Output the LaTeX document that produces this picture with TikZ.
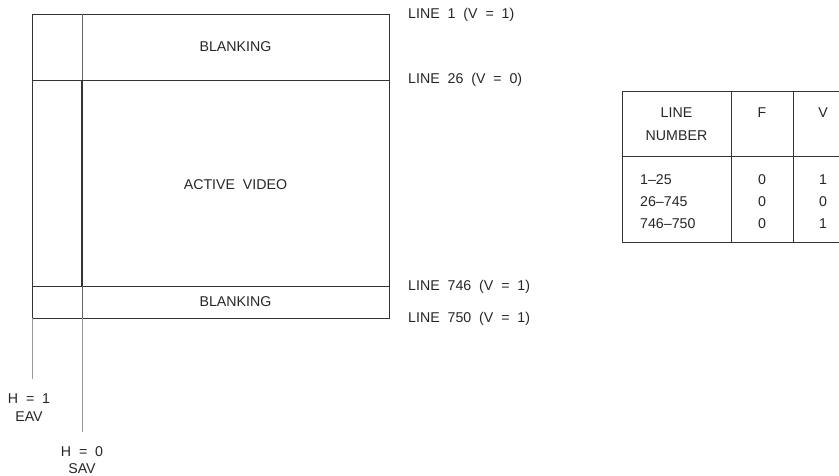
\documentclass[tikz,border=0pt]{standalone}
\usepackage{fontspec}
\setmainfont{Liberation Sans}
\begin{document}
\begin{tikzpicture}[x=1pt,y=-1pt,
  lbl/.style={inner sep=0pt,font=\fontsize{14.2}{17}\selectfont,text=black!85},
  llbl/.style={lbl,anchor=west},
  frame/.style={draw=black!80,line width=0.9pt},
  guide/.style={draw=black!40,line width=0.8pt}]
\useasboundingbox (0,0) rectangle (839,476);
% main frame
\coordinate (tl) at (32,14);
\coordinate (br) at (389,318);
\draw[frame] (tl) rectangle (br);
\coordinate (l26) at (32,80);
\coordinate (r26) at (389,80);
\coordinate (l746) at (32,286);
\coordinate (r746) at (389,286);
\draw[frame] (l26) -- (r26);
\draw[frame] (l746) -- (r746);
\coordinate (sTop) at (82,14);
\coordinate (sA) at (82,80);
\coordinate (sB) at (82,286);
\coordinate (sBot) at (82,318);
\coordinate (sEnd) at (82,432);
\coordinate (eTop) at (32,318);
\coordinate (eEnd) at (32,379);
\draw[frame,draw=black!60] (sTop) -- (sA);
\draw[frame,line width=1.05pt] (sA) -- (sB);
\draw[frame,draw=black!60] (sB) -- (sBot);
\draw[guide] (sBot) -- (sEnd);
\draw[guide] (eTop) -- (eEnd);
% texts in frame
\node[lbl] (blank1) at (235.5,47) {BLANKING};
\node[lbl] (active) at (235.5,185) {ACTIVE\ \ VIDEO};
\node[lbl] (blank2) at (235.5,302) {BLANKING};
% right labels
\node[llbl] (line1) at (408,15) {LINE\ \ 1\ \ (V\ \ =\ \ 1)};
\node[llbl] (line26) at (408,80) {LINE\ \ 26\ \ (V\ \ =\ \ 0)};
\node[llbl] (line746) at (408,287) {LINE\ \ 746\ \ (V\ \ =\ \ 1)};
\node[llbl] (line750) at (408,319) {LINE\ \ 750\ \ (V\ \ =\ \ 1)};
% H labels
\node[lbl] (h1) at (29,399) {H\ \ =\ \ 1};
\node[lbl] (eav) at (29,417) {EAV};
\node[lbl] (h0) at (82,452) {H\ \ =\ \ 0};
\node[lbl] (sav) at (82,469) {SAV};
% table
\coordinate (tTL) at (622,91);
\coordinate (tTR) at (839,91);
\coordinate (tML) at (622,156);
\coordinate (tMR) at (839,156);
\coordinate (tBL) at (622,242);
\coordinate (tBR) at (839,242);
\coordinate (c1t) at (731,91);
\coordinate (c1b) at (731,242);
\coordinate (c2t) at (793,91);
\coordinate (c2b) at (793,242);
\draw[frame] (tTR) -- (tTL) -- (tBL) -- (tBR);
\draw[frame] (tML) -- (tMR);
\draw[frame] (c1t) -- (c1b);
\draw[frame] (c2t) -- (c2b);
\node[lbl] (thLine) at (676.5,113) {LINE};
\node[lbl] (thNum) at (676.5,136) {NUMBER};
\node[lbl] (thF) at (762,113) {F};
\node[lbl] (thV) at (823,113) {V};
\node[llbl] (r1) at (640,180) {1–25};
\node[llbl] (r2) at (640,202) {26–745};
\node[llbl] (r3) at (640,224) {746–750};
\node[lbl] (f1) at (762,180) {0};
\node[lbl] (f2) at (762,202) {0};
\node[lbl] (f3) at (762,224) {0};
\node[lbl] (v1) at (823,180) {1};
\node[lbl] (v2) at (823,202) {0};
\node[lbl] (v3) at (823,224) {1};
\end{tikzpicture}
\end{document}
